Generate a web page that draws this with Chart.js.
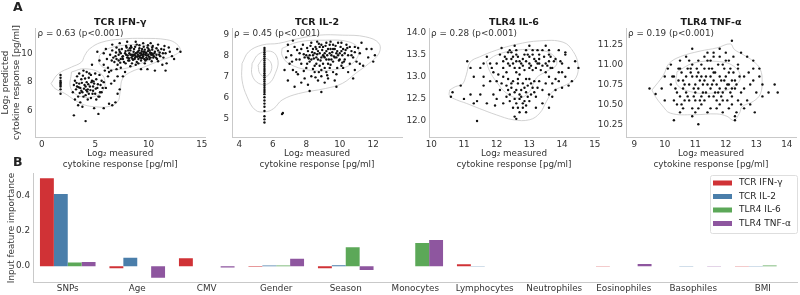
<!DOCTYPE html>
<html>
<head>
<meta charset="utf-8">
<script src="https://cdn.jsdelivr.net/npm/chart.js@4"></script>
<style>
  html, body { margin: 0; padding: 0; background: #fff; }
  #fig { position: relative; width: 800px; height: 295px; overflow: hidden; }
  #fig canvas { position: absolute; }
  .tag { position: absolute; font: bold 12.5px 'DejaVu Sans'; color: #222; }
</style>
</head>
<body>
<div id="fig">
  <canvas id="bars"></canvas>
  <canvas id="s0"></canvas>
  <canvas id="s1"></canvas>
  <canvas id="s2"></canvas>
  <canvas id="s3"></canvas>
  <div class="tag" style="left:13px;top:-1px">A</div>
  <div class="tag" style="left:13px;top:154px">B</div>
</div>
<script>
// ---- panel A : measured vs predicted (log2 pg/ml) ----
const ifngPoints = [
  [6.1,9.6],[6.4,9.9],[6.6,10.2],[6.8,9.4],[6.9,9.8],[7.0,10.4],[7.1,9.2],[7.2,9.9],[7.3,10.1],[7.4,9.6],
  [7.5,10.3],[7.6,9.8],[7.7,9.4],[7.8,10.0],[7.9,10.5],[8.0,9.7],[8.1,10.2],[8.2,9.5],[8.3,9.9],[8.4,10.4],
  [8.5,9.8],[8.6,10.1],[8.7,9.6],[8.8,10.0],[8.9,10.6],[9.0,9.9],[9.1,10.2],[9.2,9.7],[9.3,10.0],[9.4,10.3],
  [9.5,9.8],[9.6,10.1],[9.7,9.5],[9.8,10.0],[9.9,10.4],[10.0,9.9],[10.1,10.2],[10.2,9.7],[10.3,10.0],[10.4,10.5],
  [10.5,9.8],[10.6,10.1],[10.8,9.6],[10.9,10.2],[11.0,9.9],[11.2,10.3],[11.4,9.7],[11.6,10.0],[11.9,10.4],[12.2,9.8],
  [7.6,9.6],[7.9,9.9],[8.1,9.5],[8.3,10.2],[8.5,9.6],[8.7,9.9],[8.9,9.4],[9.1,9.8],[9.3,9.5],[9.5,10.1],
  [9.7,9.9],[9.9,9.6],[10.2,10.0],[8.2,10.0],[8.6,9.9],[9.0,10.1],[9.4,9.9],[9.8,9.7],[10.0,10.3],[7.2,9.5],
  [7.4,10.0],[7.0,9.6],[6.7,9.7],[8.4,9.7],[8.8,9.8],[9.2,10.0],[9.6,9.6],[10.4,9.9],[10.7,9.7],[11.1,9.8],
  [5.8,9.2],[6.2,9.0],[6.5,8.8],[7.0,8.9],[7.4,9.0],[7.8,8.7],[8.3,9.1],[8.8,9.2],[9.3,8.9],[6.0,10.3],
  [6.6,10.6],[7.3,10.7],[8.0,10.8],[8.8,10.8],[9.5,10.7],[10.2,10.7],[10.9,10.6],[11.5,10.5],[12.0,10.1],[12.7,10.3],
  [13.0,10.1],[11.7,9.3],[12.4,9.6],[11.3,9.2],[10.6,8.8],[9.9,8.9],[11.6,8.8],[5.4,9.5],[5.8,10.0],[5.2,10.1],
  [4.7,9.2],
  [7.55,9.75],[7.85,10.15],[8.05,9.85],[8.25,10.35],[8.45,9.9],[8.65,10.3],[8.75,9.7],[8.95,10.05],[9.05,9.6],[9.15,10.35],
  [9.25,9.85],[9.35,10.15],[9.45,9.7],[9.55,9.95],[9.65,10.25],[9.75,10.05],[9.85,9.85],[9.95,10.15],[10.05,9.75],[10.15,10.05],
  [10.25,9.9],[10.35,10.25],[10.45,9.7],[10.55,10.0],[10.75,9.9],[8.15,9.65],[8.55,9.55],[8.95,9.75],[9.35,9.65],[9.75,9.55],
  [10.1,9.6],[7.95,10.4],[8.35,10.5],[8.75,10.45],[9.15,10.55],[9.55,10.45],[9.95,10.55],[10.35,10.4],[10.75,10.35],[11.05,10.05],
  [11.35,10.0],[11.45,10.25],[7.25,10.25],[6.95,10.05],[6.55,9.5],[7.35,9.35],[7.85,9.3],[8.45,9.3],[9.05,9.3],[9.65,9.3],
  [10.3,9.45],[10.9,9.45],
  [1.75,7.2],[1.75,7.5],[1.75,7.7],[1.75,7.8],[1.75,7.9],[1.75,8.0],[1.75,8.1],[1.75,8.3],[1.75,8.5],
  [2.9,7.3],[3.0,7.8],[3.1,8.1],[3.2,7.5],[3.3,8.4],[3.4,7.0],[3.5,7.9],[3.6,7.6],[3.7,8.2],[3.8,7.3],
  [3.9,8.8],[4.0,7.8],[4.1,7.1],[4.2,8.0],[4.3,7.5],[4.4,8.3],[4.5,7.7],[4.6,6.9],[4.7,8.1],[4.8,7.4],
  [4.9,7.9],[5.0,7.2],[5.1,8.2],[5.2,7.6],[5.3,7.0],[5.5,7.8],[5.6,7.3],[5.8,8.0],[6.0,7.6],[6.2,8.4],
  [6.5,7.9],[3.3,7.7],[3.7,7.4],[4.1,7.7],[4.4,7.2],[4.8,7.7],[3.5,8.6],[4.2,8.7],[3.9,7.0],[4.6,8.5],
  [5.4,8.5],[3.1,6.8],[3.6,6.6],[4.3,6.8],[5.1,6.8],[5.4,7.0],[5.45,7.3],[3.4,6.4],
  [3.45,7.65],[3.75,7.95],[3.95,7.55],[4.05,8.25],[4.25,7.35],[4.35,7.85],[4.55,7.45],[4.65,8.0],[4.85,8.05],[5.05,7.55],
  [3.25,7.95],[3.55,7.25],[4.15,7.45],[4.75,7.2],[5.25,7.85],[3.85,8.45],[4.45,8.6],[5.0,8.6],[5.6,8.1],[5.7,7.6],
  [3.0,5.7],[4.1,5.3],[5.3,5.8],[4.9,6.2],[6.6,6.4],[5.8,6.2],[6.9,6.6],[6.3,6.5],[3.8,6.3],[7.1,7.2],
  [7.3,7.5],[7.1,8.4],[6.8,8.1],[7.6,8.4],[6.3,8.7],[5.9,8.8]
];
const ifngContours = [
  [[0.86,7.90],[1.54,8.58],[2.77,9.04],[3.70,9.38],[4.01,9.84],[4.47,10.30],[5.55,10.75],[7.40,10.98],
   [9.56,11.03],[11.72,10.94],[12.65,10.64],[12.96,10.18],[12.34,9.84],[11.11,9.50],[9.56,9.04],[8.33,8.70],
   [7.56,8.24],[7.34,7.33],[7.10,6.64],[6.17,6.30],[4.93,6.30],[4.01,6.42],[3.08,6.76],[2.16,7.21],[1.23,7.56]],
  [[5.40,9.84],[6.01,10.25],[7.40,10.53],[9.56,10.57],[10.80,10.25],[10.74,9.79],[9.56,9.38],[7.71,8.93],
   [6.17,8.93],[5.40,9.27]],
  [[2.77,8.70],[4.01,8.93],[5.55,8.58],[5.92,7.79],[5.24,7.10],[3.70,6.99],[2.71,7.56]]
];

const il2Points = [
  [6.8,7.9],[6.9,8.2],[7.0,7.6],[7.1,8.0],[7.2,7.3],[7.3,8.4],[7.4,7.8],[7.5,7.1],[7.6,8.1],[7.7,7.6],
  [7.8,8.5],[7.9,7.9],[8.0,7.4],[8.1,8.2],[8.2,7.7],[8.3,8.6],[8.4,8.0],[8.5,7.5],[8.6,8.3],[8.7,7.8],
  [8.8,8.1],[8.9,7.3],[9.0,8.4],[9.1,7.9],[9.2,8.2],[9.3,7.6],[9.4,8.5],[9.5,8.0],[9.6,7.7],[9.7,8.3],
  [9.8,7.9],[9.9,8.6],[10.0,8.1],[10.1,7.5],[10.2,8.3],[10.3,7.8],[10.4,8.5],[10.5,8.0],[10.6,7.6],[10.7,8.2],
  [10.8,7.9],[10.9,8.4],[11.0,7.7],[11.2,8.1],[11.4,7.5],[11.6,8.3],
  [8.2,8.0],[8.4,8.3],[8.6,7.9],[8.8,8.4],[9.0,8.0],[9.2,7.8],[9.4,8.1],[9.6,8.3],[9.8,8.1],[10.0,7.8],
  [8.5,8.1],[8.9,7.9],[9.3,8.3],[9.7,7.9],[10.1,8.2],[8.3,7.8],[8.7,8.2],[9.1,8.1],[9.5,7.8],[9.9,8.0],
  [8.0,8.0],[8.1,7.9],[7.6,7.8],[7.7,8.3],[8.9,8.5],[9.2,8.6],[9.6,8.5],[10.3,8.1],[10.6,8.4],[8.6,7.6],
  [9.0,7.6],[9.4,7.4],[8.8,7.5],[9.2,7.2],[8.5,7.2],[9.6,7.2],[8.9,7.0],[9.3,6.9],[8.7,6.8],[9.1,6.7],
  [8.3,7.0],[7.9,6.9],[7.4,7.2],[7.7,6.7],[8.1,6.6],[9.8,7.1],[10.2,7.4],[10.5,7.2],[10.9,7.3],[11.2,7.6],
  [7.85,8.05],[8.05,8.35],[8.15,7.85],[8.25,8.45],[8.35,8.15],[8.45,7.85],[8.55,8.4],[8.65,8.05],[8.75,8.55],[8.85,7.75],
  [8.95,8.25],[9.05,7.95],[9.15,8.45],[9.25,8.0],[9.35,7.8],[9.45,8.3],[9.55,8.15],[9.65,7.95],[9.75,8.45],[9.85,8.2],
  [9.95,7.75],[10.05,8.4],[10.15,8.0],[10.25,7.7],[10.35,8.25],[10.45,8.35],[10.7,8.0],[10.9,8.15],[11.1,8.35],[8.05,7.6],
  [8.4,7.35],[8.75,7.2],[9.1,7.4],[9.45,7.55],[9.85,7.4],[10.15,7.65],[8.65,8.65],[9.45,8.65],[10.1,8.6],[7.45,8.25],
  [7.15,7.7],[7.85,7.25],[8.55,6.95],[9.25,7.05],[9.7,6.8],
  [6.6,5.25],[6.55,5.2],[8.2,6.3],[8.9,6.25],[9.8,6.5],[7.3,6.5],[6.9,6.8],[6.7,7.3],[11.9,8.3],[12.0,7.7],
  [11.3,8.6],[11.7,7.9],[12.1,8.0],[6.9,8.5],[7.2,8.7],[10.8,6.9],
  [5.5,8.35],[5.5,8.25],[5.5,8.15],[5.5,8.05],[5.5,7.95],[5.5,7.85],[5.5,7.75],[5.5,7.65],[5.5,7.55],[5.5,7.45],
  [5.5,7.35],[5.5,7.25],[5.5,7.15],[5.5,7.05],[5.5,6.95],[5.5,6.85],[5.5,6.75],[5.5,6.65],[5.5,6.55],[5.5,6.45],
  [5.5,6.35],[5.5,6.25],[5.5,6.15],[5.5,6.0],[5.5,5.85],[5.5,5.7],[5.5,5.55],[5.5,5.35],[5.5,5.1],[5.5,4.95],
  [5.5,4.8]
];
const il2Contours = [
  [[4.16,7.61],[4.56,8.17],[5.36,8.49],[6.35,8.57],[7.55,8.80],[8.75,8.96],[10.15,8.96],[11.54,8.88],
   [12.34,8.57],[12.34,8.09],[11.74,7.61],[10.95,7.14],[10.15,6.66],[9.15,6.42],[7.55,6.18],[6.55,5.87],
   [6.06,5.47],[5.56,5.31],[4.96,5.39],[4.46,6.03],[4.16,6.82]],
  [[4.76,7.61],[5.16,8.06],[5.96,8.17],[6.31,7.74],[6.15,7.14],[5.76,6.66],[5.16,6.66],[4.76,7.06]],
  [[5.12,7.53],[5.46,7.85],[5.86,7.69],[5.90,7.26],[5.56,6.98],[5.22,7.14]],
  [[6.55,8.33],[7.55,8.64],[9.15,8.72],[10.55,8.64],[11.14,8.25],[10.75,7.61],[9.55,7.30],[8.15,7.30],
   [6.95,7.61],[6.55,8.01]]
];

const il6Points = [
  [12.0,13.3],[12.1,13.5],[12.2,13.2],[12.3,13.4],[12.4,13.6],[12.5,13.3],[12.6,13.5],[12.7,13.2],[12.8,13.4],[12.9,13.6],
  [13.0,13.3],[13.1,13.5],[13.2,13.2],[13.3,13.4],[13.4,13.6],[13.5,13.3],[13.6,13.5],[13.7,13.2],[13.8,13.4],[12.2,13.35],
  [12.4,13.25],[12.6,13.35],[12.8,13.25],[13.0,13.45],[13.2,13.35],[13.4,13.25],[13.6,13.35],[12.5,13.45],[12.9,13.35],[13.3,13.5],
  [12.3,13.1],[12.7,13.05],[13.1,13.15],[13.5,13.1],[12.45,13.55],[12.85,13.5],[13.25,13.6],[13.65,13.45],[12.15,13.65],[12.55,13.7],
  [13.0,13.7],[13.5,13.7],[13.9,13.6],[14.1,13.5],[14.0,13.3],[13.9,13.1],
  [12.25,13.45],[12.35,13.3],[12.45,13.4],[12.55,13.2],[12.65,13.45],[12.75,13.3],[12.85,13.15],[12.95,13.5],[13.05,13.25],[13.15,13.4],
  [13.25,13.3],[13.35,13.15],[13.45,13.45],[13.55,13.25],[13.65,13.2],[13.75,13.35],[12.6,13.6],[13.1,13.6],[13.6,13.6],[12.35,13.55],
  [12.7,13.35],[13.0,13.2],[13.3,13.3],[12.6,13.1],
  [12.2,13.0],[12.3,12.8],[12.4,12.6],[12.5,12.9],[12.6,12.7],[12.7,12.5],[12.8,12.85],[12.9,12.65],[13.0,12.95],[13.1,12.75],
  [13.2,12.55],[13.3,12.9],[12.35,12.95],[12.45,12.75],[12.55,12.5],[12.65,12.95],[12.75,12.7],[12.85,12.45],[12.95,12.8],[13.05,12.6],
  [13.15,12.9],[12.6,12.4],[12.8,12.3],[12.7,12.2],[12.9,12.35],[13.0,12.45],[12.5,12.3],[12.4,12.45],[12.3,12.55],[12.1,12.7],
  [12.0,12.9],[13.4,12.7],[13.5,12.85],[13.6,13.0],[12.55,12.1],[12.6,12.05],[12.9,12.2],[13.4,12.4],[13.2,12.3],[12.2,12.4],
  [12.45,12.85],[12.55,12.65],[12.65,12.85],[12.75,12.55],[12.85,12.75],[12.95,12.55],[13.05,12.85],[12.7,12.6],[12.8,12.4],[12.65,12.3],
  [12.35,12.7],[13.15,12.65],[13.25,12.75],[12.9,12.95],[12.15,12.85],
  [10.6,12.55],[10.65,12.65],[10.9,12.8],[11.0,12.5],[11.1,13.35],[11.2,12.6],[11.3,13.0],[11.4,12.0],[11.4,12.45],[11.5,13.2],
  [11.6,12.8],[11.7,12.4],[11.8,13.3],[11.9,12.6],[11.6,13.0],[11.8,12.9],[11.2,13.2],[11.9,13.1],[11.5,12.6],[11.7,13.45],
  [11.3,12.4],[12.0,12.5],[11.95,12.35],[11.85,13.2],[11.6,13.3],[12.05,13.05],
  [13.9,12.9],[14.0,12.75],[14.1,13.0],[14.2,13.2],[14.3,12.9],[14.5,13.2],[14.1,13.55],[13.8,12.7],[13.7,12.55],[14.2,12.8],
  [13.6,12.3],[14.0,13.1],[14.4,13.35],[13.8,12.95],[13.7,12.85],[13.95,13.35],[13.6,12.6]
];
const il6Contours = [
  [[10.56,12.70],[10.75,12.78],[10.95,12.83],[11.07,13.04],[11.19,13.33],[11.48,13.45],[11.99,13.60],[12.60,13.73],
   [13.32,13.81],[14.03,13.78],[14.34,13.57],[14.49,13.27],[14.42,12.97],[14.13,12.82],[13.72,12.67],[13.52,12.44],
   [13.32,12.18],[13.01,12.03],[12.50,12.03],[11.99,12.14],[11.48,12.28],[11.07,12.40],[10.77,12.48],[10.56,12.57]],
  [[11.68,13.34],[11.99,13.49],[12.60,13.60],[13.32,13.60],[13.72,13.49],[13.83,13.27],[13.52,13.12],[13.21,12.97],
   [13.01,12.67],[12.70,12.52],[12.30,12.63],[11.99,12.89],[11.79,13.12]]
];

const tnfPoints = [
  [10.2,10.75],[10.3,10.85],[10.4,10.65],[10.5,10.95],[10.6,10.7],[10.7,10.85],[10.8,10.55],[10.9,11.0],[11.0,10.75],[11.1,10.9],
  [11.2,10.6],[11.3,10.8],[11.4,11.05],[11.5,10.7],[11.6,10.9],[11.7,10.55],[11.8,10.85],[11.9,11.0],[12.0,10.7],[12.1,10.9],
  [12.2,10.6],[12.3,10.8],[12.4,11.0],[12.5,10.65],[12.6,10.85],[12.7,10.55],[12.8,10.75],[12.9,10.95],[13.0,10.65],
  [10.6,10.8],[10.8,10.75],[11.0,10.65],[11.2,10.85],[11.4,10.75],[11.6,10.8],[11.8,10.7],[12.0,10.85],[12.2,10.8],[10.7,10.65],
  [10.9,10.85],[11.1,10.7],[11.3,10.95],[11.5,10.85],[11.7,10.75],[11.9,10.65],[12.1,10.75],[12.3,10.7],[10.5,10.6],[10.75,10.95],
  [11.05,10.85],[11.35,10.65],[11.55,10.95],[11.75,11.0],[11.95,10.8],[12.15,10.95],[11.25,10.75],[11.45,10.6],[11.65,10.65],[11.85,10.6],
  [12.05,10.55],[11.15,10.55],[10.95,10.6],[10.65,10.55],[10.45,10.8],[10.35,10.7],[10.55,10.9],[11.6,11.1],[11.3,11.1],[12.0,11.05],
  [10.8,11.05],[11.1,11.05],[12.25,11.1],
  [10.65,10.75],[10.85,10.9],[10.95,10.7],[11.05,10.95],[11.15,10.8],[11.25,10.65],[11.35,10.85],[11.45,10.95],[11.55,10.75],[11.65,10.9],
  [11.75,10.65],[11.85,10.8],[11.95,10.95],[12.05,10.75],[12.15,10.65],[12.25,10.9],[12.35,10.75],[12.45,10.85],[10.75,10.6],[11.0,10.55],
  [11.3,10.55],[11.6,10.6],[11.9,10.55],[12.2,10.7],[10.85,10.95],[11.2,11.0],[11.5,11.05],[11.8,11.1],[12.1,11.05],[12.4,10.95],
  [12.6,10.7],[12.75,10.9],[10.45,10.95],[10.25,10.85],[10.55,10.5],[11.1,10.45],[11.7,10.45],[12.5,10.5],[12.9,10.8],[13.1,10.95],
  [11.4,11.15],[10.7,11.1],[12.0,11.15],[10.9,10.35],
  [10.4,10.5],[10.6,10.45],[10.9,10.45],[11.2,10.5],[11.5,10.45],[11.8,10.5],[12.1,10.45],[10.5,10.4],[11.0,10.4],[11.4,10.4],
  [12.2,10.5],[12.4,10.55],[10.3,10.55],
  [9.5,10.7],[9.7,10.63],[9.9,10.7],[10.0,10.55],[10.0,10.85],[10.1,10.95],[10.3,10.3],[10.5,11.05],[10.9,11.2],[11.1,10.25],
  [11.6,11.15],[11.8,11.2],[12.2,11.3],[12.3,10.3],[12.3,10.35],[12.35,10.4],[12.6,10.45],[12.8,10.5],[12.9,11.05],[13.2,10.6],
  [13.4,10.65],[13.6,10.75],[13.7,10.65],[13.1,10.85],[13.2,10.75],[12.7,11.1],[11.9,10.4],[12.5,11.15],[10.2,11.0],[12.95,10.4]
];
const tnfContours = [
  [[9.58,10.68],[9.96,10.87],[10.13,11.01],[10.51,11.10],[11.16,11.17],[11.71,11.21],[12.15,11.26],[12.28,11.19],
   [12.59,11.12],[12.91,11.04],[13.13,10.94],[13.19,10.79],[13.13,10.63],[12.91,10.54],[12.53,10.47],[12.45,10.39],
   [12.26,10.30],[12.04,10.35],[11.71,10.38],[10.95,10.37],[10.18,10.39],[9.91,10.49],[9.69,10.60]],
  [[10.40,10.91],[10.95,11.02],[11.71,11.04],[12.26,10.98],[12.48,10.83],[12.15,10.70],[11.49,10.64],[10.84,10.66],
   [10.40,10.75]]
];

const ifngXTicks = [0, 5, 10, 15],           ifngYTicks = [6, 8, 10];
const il2XTicks  = [4, 6, 8, 10, 12],        il2YTicks  = [5, 6, 7, 8, 9];
const il6XTicks  = [10, 11, 12, 13, 14, 15], il6YTicks  = [12, 12.5, 13, 13.5, 14];
const tnfXTicks  = [9, 10, 11, 12, 13, 14],  tnfYTicks  = [10.25, 10.5, 10.75, 11, 11.25];

// ---- panel B : input feature importance ----
const features = ['SNPs','Age','CMV','Gender','Season','Monocytes','Lymphocytes','Neutrophiles','Eosinophiles','Basophiles','BMI'];
const seriesNames = ['TCR IFN-γ', 'TCR IL-2', 'TLR4 IL-6', 'TLR4 TNF-α'];
const ifngImportance = [0.496, -0.012, 0.045, -0.003, -0.012, 0, 0.011, 0, -0.002, 0, -0.002];
const il2Importance  = [0.407, 0.048, 0, 0.004, 0.005, 0, -0.002, 0, 0, -0.002, -0.002];
const il6Importance  = [0.021, 0, 0, 0.004, 0.107, 0.131, 0, 0, 0, 0, 0.004];
const tnfImportance  = [0.024, -0.065, -0.007, 0.042, -0.022, 0.148, 0, 0, 0.012, -0.002, 0];
const importanceTicks = [0, 0.2, 0.4];

Chart.defaults.font.family = "'DejaVu Sans'";
Chart.defaults.color = '#333';

const spine = '#c9c9c9';
const FS = 8.8;

const panelText = {
  id: 'panelText',
  afterDraw(chart, args, opts) {
    const { ctx, chartArea: a } = chart;
    ctx.save();
    ctx.fillStyle = '#1a1a1a';
    ctx.textBaseline = 'middle';
    ctx.font = "bold 9.5px 'DejaVu Sans'";
    ctx.textAlign = 'center';
    ctx.fillText(opts.title, (a.left + a.right) / 2, a.top - 5);
    ctx.fillStyle = '#333';
    ctx.font = FS + "px 'DejaVu Sans'";
    ctx.textAlign = 'left';
    ctx.fillText(opts.rho, a.left + 2, a.top + 6);
    ctx.restore();
  }
};

const toXY = arr => arr.map(([x, y]) => ({ x, y }));
const closeLoop = c => toXY([...c, c[0]]);

const panels = [
  { id: 's0', title: 'TCR IFN-γ', rho: 'ρ = 0.63 (p<0.001)', pts: ifngPoints, cont: ifngContours,
    xr: [-0.6, 15.3], yr: [4.2, 11.75], xt: ifngXTicks, yt: ifngYTicks, yd: 0, left: 35.5, yTitle: true },
  { id: 's1', title: 'TCR IL-2', rho: 'ρ = 0.45 (p<0.001)', pts: il2Points, cont: il2Contours,
    xr: [3.56, 13.72], yr: [4.11, 9.3], xt: il2XTicks, yt: il2YTicks, yd: 0, left: 232 },
  { id: 's2', title: 'TLR4 IL-6', rho: 'ρ = 0.28 (p<0.001)', pts: il6Points, cont: il6Contours,
    xr: [9.93, 15.13], yr: [11.64, 14.1], xt: il6XTicks, yt: il6YTicks, yd: 1, left: 429 },
  { id: 's3', title: 'TLR4 TNF-α', rho: 'ρ = 0.19 (p<0.001)', pts: tnfPoints, cont: tnfContours,
    xr: [8.73, 14.3], yr: [10.09, 11.46], xt: tnfXTicks, yt: tnfYTicks, yd: 2, left: 626 }
];

panels.forEach(p => {
  const padL = p.yTitle ? 35.5 : 30;
  const W = padL + 170 + 6, H = 175;
  const cv = document.getElementById(p.id);
  cv.width = W; cv.height = H;
  cv.style.left = (p.left - padL) + 'px';
  cv.style.top = '0px';

  const datasets = [
    { data: toXY(p.pts), pointRadius: 1.2, pointBackgroundColor: '#111', pointBorderWidth: 0, showLine: false }
  ];
  p.cont.forEach(c => datasets.push({
    data: closeLoop(c), showLine: true, pointRadius: 0, borderColor: '#c6c6c6',
    borderWidth: 0.8, tension: 0.4, fill: false
  }));

  new Chart(cv, {
    type: 'scatter',
    data: { datasets },
    options: {
      responsive: false, animation: false, events: [],
      layout: { padding: { left: 0, right: 6, top: 28, bottom: 0 } },
      plugins: { legend: { display: false }, tooltip: { enabled: false },
                 panelText: { title: p.title, rho: p.rho } },
      scales: {
        x: {
          type: 'linear', min: p.xr[0], max: p.xr[1],
          grid: { display: false, drawTicks: false },
          border: { color: spine },
          ticks: { padding: 2, font: { size: FS }, callback: v => String(v) },
          afterBuildTicks: s => { s.ticks = p.xt.map(v => ({ value: v })); },
          afterFit: s => { s.height = H - 137; },
          title: { display: true, text: ['Log₂ measured', 'cytokine response [pg/ml]'],
                   font: { size: FS, lineHeight: 1.2 }, padding: { top: 0, bottom: 5.2 } }
        },
        y: {
          type: 'linear', min: p.yr[0], max: p.yr[1],
          grid: { display: false, drawTicks: false },
          border: { color: spine },
          ticks: { padding: 3, font: { size: FS }, callback: v => v.toFixed(p.yd) },
          afterBuildTicks: s => { s.ticks = p.yt.map(v => ({ value: v })); },
          afterFit: s => { s.width = padL; },
          title: { display: !!p.yTitle, text: ['Log₂ predicted', 'cytokine response [pg/ml]'],
                   font: { size: FS, lineHeight: 1.2 }, padding: { top: 0.5, bottom: 0 } }
        }
      }
    },
    plugins: [panelText]
  });
});

// ---- bar chart ----
const colors = ['#d03236', '#4a7eaa', '#5ca858', '#8e569f'];
const importances = [ifngImportance, il2Importance, il6Importance, tnfImportance];

const boxLegend = {
  id: 'boxLegend',
  afterDraw(chart) {
    const { ctx } = chart;
    const x0 = 710, y0 = 10, w = 87, h = 58;
    ctx.save();
    ctx.fillStyle = 'rgba(255,255,255,0.9)';
    ctx.strokeStyle = '#dedede';
    ctx.lineWidth = 1;
    ctx.beginPath();
    ctx.roundRect(x0 + 0.5, y0 + 0.5, w, h, 2);
    ctx.fill(); ctx.stroke();
    ctx.font = "9px 'DejaVu Sans'";
    ctx.textBaseline = 'middle';
    chart.data.datasets.forEach((ds, i) => {
      const cy = y0 + 8 + i * 13.5;
      ctx.fillStyle = ds.backgroundColor;
      ctx.fillRect(x0 + 3, cy - 2.5, 19, 5);
      ctx.fillStyle = '#262626';
      ctx.fillText(ds.label, x0 + 29, cy);
    });
    ctx.restore();
  }
};

const bc = document.getElementById('bars');
bc.width = 800; bc.height = 130;
bc.style.left = '0px'; bc.style.top = '165px';

new Chart(bc, {
  type: 'bar',
  data: {
    labels: features,
    datasets: seriesNames.map((name, i) => ({
      label: name, data: importances[i], backgroundColor: colors[i], borderWidth: 0
    }))
  },
  options: {
    responsive: false, animation: false, events: [],
    categoryPercentage: 0.8, barPercentage: 1.0,
    layout: { padding: { left: 0, right: 2.5, top: 6.7, bottom: 0 } },
    plugins: { legend: { display: false }, tooltip: { enabled: false } },
    scales: {
      x: {
        grid: { display: false, drawTicks: false },
        border: { color: spine },
        ticks: { padding: 1, font: { size: FS }, autoSkip: false, maxRotation: 0 },
        afterFit: s => { s.height = 130 - 117.7; }
      },
      y: {
        min: -0.093, max: 0.524,
        grid: { display: false, drawTicks: false },
        border: { color: spine },
        ticks: { padding: 3, font: { size: FS }, callback: v => v.toFixed(1) },
        afterBuildTicks: s => { s.ticks = importanceTicks.map(v => ({ value: v })); },
        afterFit: s => { s.width = 33; },
        title: { display: true, text: 'Input feature importance',
                 font: { size: FS, lineHeight: 1.2 }, padding: { top: 6.5, bottom: 0 } }
      }
    }
  },
  plugins: [boxLegend]
});
</script>
</body>
</html>
